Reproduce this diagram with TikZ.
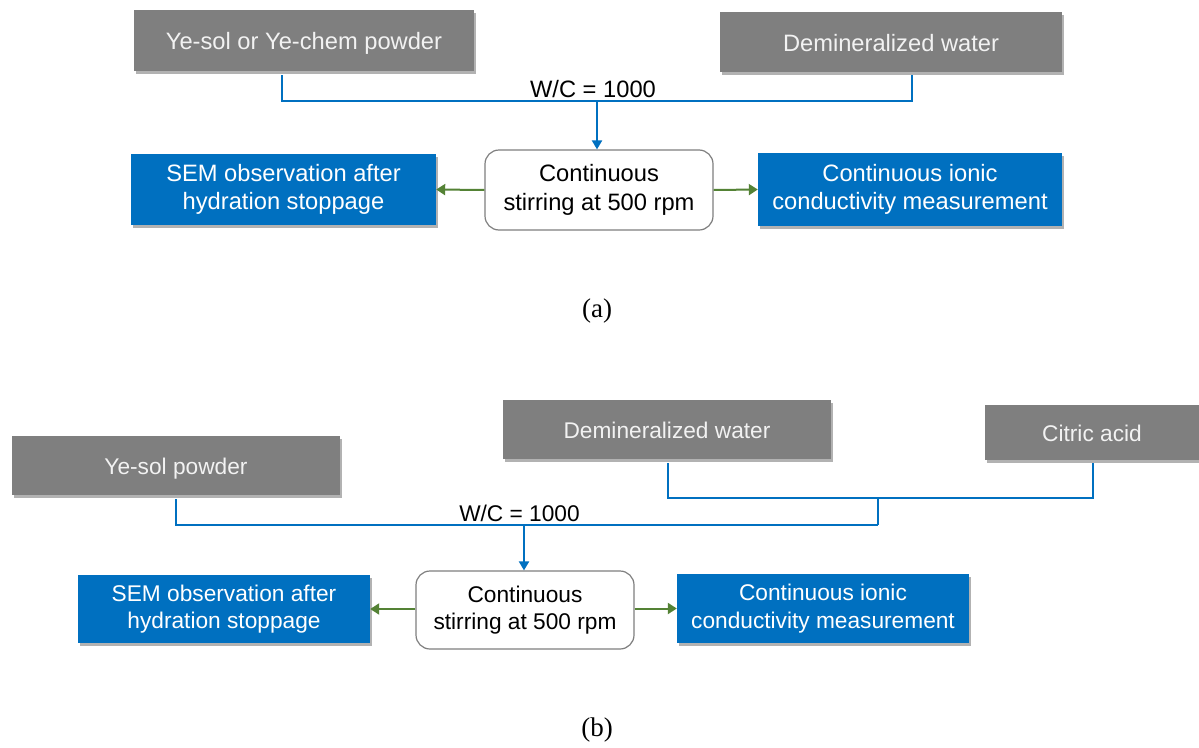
\documentclass[tikz,border=0pt]{standalone}
\usepackage{fontspec}
\setmainfont{Liberation Sans}
\newfontfamily\tnr{Liberation Serif}
\usetikzlibrary{arrows.meta,shadows}
\definecolor{boxgray}{HTML}{7F7F7F}
\definecolor{boxblue}{HTML}{0070C0}
\definecolor{arrgreen}{HTML}{548235}
\definecolor{linegray}{HTML}{7F7F7F}
\begin{document}
\begin{tikzpicture}[x=1pt,y=-1pt,
  fa/.style={font=\fontsize{23.7}{28.5}\selectfont},
  fb/.style={font=\fontsize{22.7}{27.5}\selectfont},
  shad/.style={drop shadow={shadow xshift=2pt,shadow yshift=-3pt,opacity=0.3,fill=black}},
  graybox/.style={rectangle, fill=boxgray, text=white!95!black, inner sep=0pt, align=center, shad, text height=23pt, text depth=5pt},
  bluebox/.style={rectangle, fill=boxblue, text=white, inner sep=0pt, align=center, shad},
  roundbox/.style={rectangle, rounded corners=14pt, draw=linegray, line width=1.2pt, fill=white, align=center, inner sep=0pt},
  bl/.style={draw=boxblue, line width=2pt},
  blarr/.style={bl, -{Triangle[width=10pt,length=9pt]}},
  grarr/.style={draw=arrgreen, line width=2pt, -{Triangle[width=11pt,length=9pt]}},
  lab/.style={font=\tnr\fontsize{27}{30}\selectfont, inner sep=0pt},
  wc/.style={inner sep=0pt}
]
\useasboundingbox[fill=white] (0,0) rectangle (1199,747);

% ---------- (a) ----------
\node[graybox, fa, minimum width=340pt, minimum height=61pt] (g1) at (304,40.5) {Ye-sol or Ye-chem powder};
\node[graybox, fa, minimum width=342pt, minimum height=60pt] (g2) at (891,42) {Demineralized water};
\node[roundbox, fa, minimum width=228pt, minimum height=80pt] (c1) at (599,190) {Continuous\\stirring at 500 rpm};
\node[bluebox, fa, minimum width=305pt, minimum height=71pt] (s1) at (283.5,189.5) {SEM observation after\\hydration stoppage};
\node[bluebox, fa, minimum width=304pt, minimum height=73pt] (i1) at (910,189.5) {Continuous ionic\\conductivity measurement};
\node[wc, fa] (wca) at (593,89) {W/C = 1000};
\node[lab] (la) at (597,311) {(a)};

\coordinate (a1) at (282,75);
\coordinate (a2) at (912,75);
\coordinate (ja) at (597,101);
\draw[bl] (a1) |- (ja) -| (a2);
\draw[blarr] (ja) -- (c1.north -| ja);
\draw[grarr] (c1.west) -- (s1.east);
\draw[grarr] (c1.east) -- (i1.west);

% ---------- (b) ----------
\node[graybox, fb, minimum width=328pt, minimum height=59pt] (g3) at (176,465.5) {Ye-sol powder};
\node[graybox, fb, minimum width=328pt, minimum height=59pt] (g4) at (667,429.5) {Demineralized water};
\node[graybox, fb, minimum width=214pt, minimum height=55pt] (g5) at (1092,432.5) {Citric acid};
\node[roundbox, fb, minimum width=218pt, minimum height=78pt] (c2) at (525,610) {Continuous\\stirring at 500 rpm};
\node[bluebox, fb, minimum width=292pt, minimum height=68pt] (s2) at (224,609) {SEM observation after\\hydration stoppage};
\node[bluebox, fb, minimum width=292pt, minimum height=69pt] (i2) at (823,608.5) {Continuous ionic\\conductivity measurement};
\node[wc, fb] (wcb) at (519.5,513) {W/C = 1000};
\node[lab] (lb) at (597,730) {(b)};

\coordinate (b1) at (176,499);
\coordinate (b2) at (668,463);
\coordinate (b3) at (1093,463);
\coordinate (jb1) at (878,498);
\coordinate (jb2) at (878,525);
\coordinate (jb3) at (524,525);
\draw[bl] (b2) |- (jb1) -| (b3);
\draw[bl] (jb1) -- (jb2);
\draw[bl] (b1) |- (jb2);
\draw[blarr] (jb3) -- (c2.north -| jb3);
\draw[grarr] (c2.west |- s2.east) -- (s2.east);
\draw[grarr] (c2.east |- i2.west) -- (i2.west);
\end{tikzpicture}
\end{document}
